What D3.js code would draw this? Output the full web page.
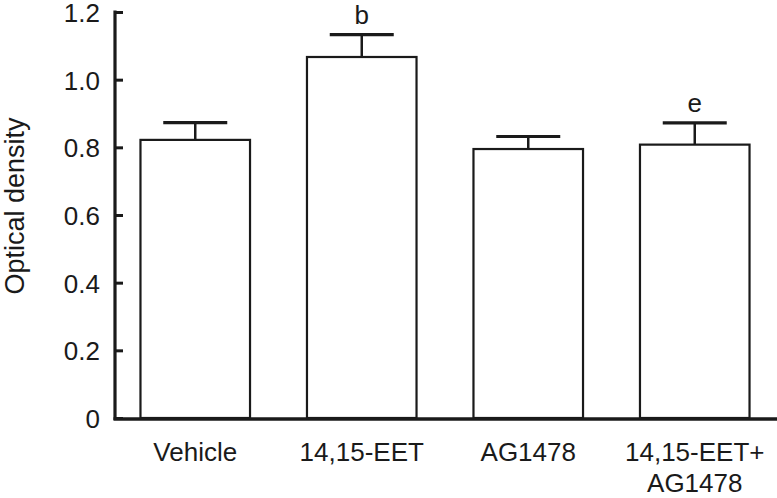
<!DOCTYPE html>
<html>
<head>
<meta charset="utf-8">
<script src="https://cdn.jsdelivr.net/npm/d3@7"></script>
<style>
  body { margin: 0; background: #fff; }
  svg { display: block; }
</style>
</head>
<body>
<svg id="chart" width="777" height="498"></svg>
<script>
const categories = ['Vehicle', '14,15-EET', 'AG1478', '14,15-EET+\nAG1478'];
const means = [0.822, 1.067, 0.795, 0.808];
const errors = [0.051, 0.066, 0.037, 0.064];
const marks = ['', 'b', '', 'e'];
const yTicks = [0, 0.2, 0.4, 0.6, 0.8, 1.0, 1.2];

const width = 777, height = 498;
const axisX = 115, baseY = 418;
const font = '"Liberation Sans", Arial, sans-serif';

const svg = d3.select('#chart');

const x = d3.scaleBand()
  .domain(categories)
  .range([112, 778])
  .paddingInner(0.342)
  .paddingOuter(0.171);

const y = d3.scaleLinear()
  .domain([0, 1.2])
  .range([baseY, 12]);

const data = categories.map((c, i) => ({ cat: c, mean: means[i], err: errors[i], mark: marks[i] }));
const cx = d => x(d.cat) + x.bandwidth() / 2;

// bars
svg.append('g')
  .selectAll('rect')
  .data(data)
  .join('rect')
    .attr('x', d => x(d.cat))
    .attr('y', d => y(d.mean))
    .attr('width', x.bandwidth())
    .attr('height', d => y(0) - y(d.mean))
    .attr('fill', '#fff')
    .attr('stroke', '#1a1a1a')
    .attr('stroke-width', 2.2);

// error bars, upper half only
const capHalf = 32;
const eb = svg.append('g').attr('stroke', '#1a1a1a');
eb.selectAll('line.stem')
  .data(data)
  .join('line')
    .attr('class', 'stem')
    .attr('x1', cx)
    .attr('x2', cx)
    .attr('y1', d => y(d.mean))
    .attr('y2', d => y(d.mean + d.err))
    .attr('stroke-width', 2.5);
eb.selectAll('line.cap')
  .data(data)
  .join('line')
    .attr('class', 'cap')
    .attr('x1', d => cx(d) - capHalf)
    .attr('x2', d => cx(d) + capHalf)
    .attr('y1', d => y(d.mean + d.err))
    .attr('y2', d => y(d.mean + d.err))
    .attr('stroke-width', 3.2);

// significance letters
svg.append('g')
  .attr('font-family', font)
  .attr('font-size', 26)
  .attr('text-anchor', 'middle')
  .attr('fill', '#1a1a1a')
  .selectAll('text')
  .data(data.filter(d => d.mark))
  .join('text')
    .attr('x', cx)
    .attr('y', d => y(d.mean + d.err) - 11)
    .text(d => d.mark);

// y axis
const yAxis = d3.axisLeft(y)
  .tickValues(yTicks)
  .tickSize(-8)
  .tickFormat(d => d === 0 ? '0' : d3.format('.1f')(d));

const gy = svg.append('g')
  .attr('transform', `translate(${axisX},0)`)
  .call(yAxis);
gy.select('.domain').remove();
gy.selectAll('.tick line').attr('stroke', '#1a1a1a').attr('stroke-width', 3);
gy.selectAll('.tick text')
  .attr('font-family', font)
  .attr('font-size', 26)
  .attr('fill', '#1a1a1a')
  .attr('x', -15)
  .attr('dy', '0.36em');

svg.append('line')
  .attr('x1', axisX).attr('x2', axisX)
  .attr('y1', y(1.2) - 1.5).attr('y2', baseY + 2)
  .attr('stroke', '#1a1a1a').attr('stroke-width', 3.2);

svg.append('line')
  .attr('x1', axisX - 1.5).attr('x2', width)
  .attr('y1', baseY + 1).attr('y2', baseY + 1)
  .attr('stroke', '#1a1a1a').attr('stroke-width', 3.4);

// x labels
svg.append('g')
  .attr('font-family', font)
  .attr('font-size', 26)
  .attr('fill', '#1a1a1a')
  .attr('text-anchor', 'middle')
  .selectAll('text')
  .data(categories)
  .join('text')
    .attr('transform', d => `translate(${x(d) + x.bandwidth() / 2},461)`)
    .each(function (d) {
      d.split('\n').forEach((line, i) => {
        d3.select(this).append('tspan')
          .attr('x', 0)
          .attr('y', i * 31)
          .text(line);
      });
    });

// y title
svg.append('text')
  .attr('transform', 'translate(24,206) rotate(-90)')
  .attr('text-anchor', 'middle')
  .attr('font-family', font)
  .attr('font-size', 27)
  .attr('fill', '#1a1a1a')
  .text('Optical density');
</script>
</body>
</html>
